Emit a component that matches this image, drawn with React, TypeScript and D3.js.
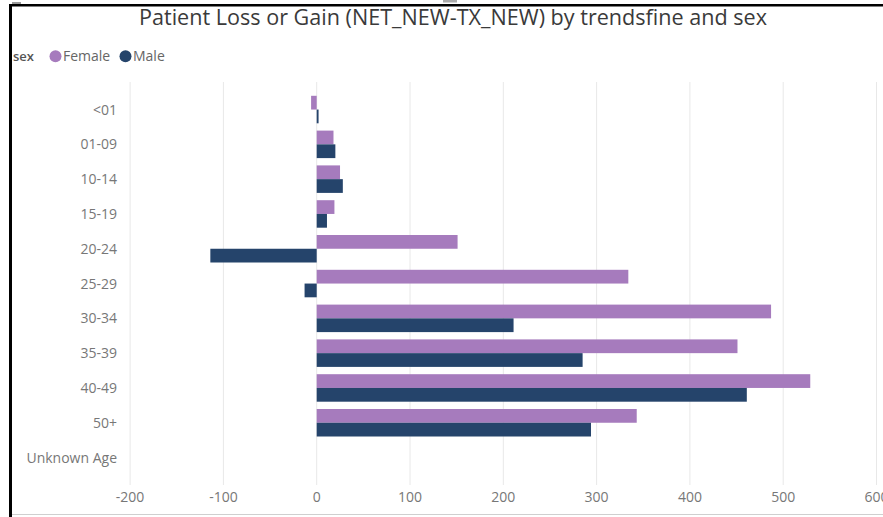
import React from "react";
import * as d3 from "d3";

const categories = ["<01", "01-09", "10-14", "15-19", "20-24", "25-29", "30-34", "35-39", "40-49", "50+", "Unknown Age"];
const femaleValues: (number | null)[] = [-6, 18, 25, 19, 151, 334, 487, 451, 529, 343, null];
const maleValues: (number | null)[] = [2, 20, 28, 11, -114, -13, 211, 285, 461, 294, null];
const seriesNames = ["Female", "Male"];
const seriesColors = ["#A67BBD", "#25446B"];
const xTicks = [-200, -100, 0, 100, 200, 300, 400, 500, 600];
const titleText = "Patient Loss or Gain (NET_NEW-TX_NEW) by trendsfine and sex";

const W = 883;
const H = 517;
const FONT = "'Open Sans', 'Noto Sans', sans-serif";

export default function App() {
  const x = d3.scaleLinear().domain([-200, 600]).range([130.1, 876.5]);
  const y = d3.scaleBand<string>().domain(categories).range([92.3, 475.1]).padding(0);
  const bw = y.bandwidth();
  const sub = d3.scaleBand<string>().domain(seriesNames).range([bw / 2 - 13.9, bw / 2 + 13.6]).padding(0);
  const series = [femaleValues, maleValues];

  return (
    <svg width={W} height={H} style={{ position: "absolute", left: 0, top: 0, background: "#fff" }}>
      <rect x={0} y={0} width={W} height={H} fill="#fff" />
      {/* frame */}
      <rect x={9} y={4} width={874} height={2.5} fill="#000" />
      <rect x={9} y={4} width={3} height={513} fill="#000" />
      <rect x={12} y={514} width={871} height={1} fill="#cfcfcf" />
      <rect x={12} y={2} width={9} height={2} fill="#9a9a9a" />
      <rect x={443} y={0} width={14} height={2.5} fill="#aaaaaa" />

      {/* title */}
      <text
        x={139}
        y={25}
        textLength={628}
        lengthAdjust="spacingAndGlyphs"
        fontFamily={FONT}
        fontSize={21}
        fill="#3a3a3a"
      >
        {titleText}
      </text>

      {/* legend */}
      <text x={13} y={61} fontFamily={FONT} fontSize={13} fontWeight={600} fill="#555">sex</text>
      {seriesNames.map((s, i) => {
        const cx = i === 0 ? 55.5 : 125.5;
        return (
          <g key={s}>
            <circle cx={cx} cy={56.3} r={6} fill={seriesColors[i]} />
            <text x={cx + 7.5} y={61} fontFamily={FONT} fontSize={14} fill="#666">{s}</text>
          </g>
        );
      })}

      {/* gridlines */}
      {xTicks.map((t) => (
        <line key={t} x1={x(t)} x2={x(t)} y1={82} y2={485} stroke="#e8e8e8" strokeWidth={1} />
      ))}

      {/* bars */}
      {categories.map((c, ci) => (
        <g key={c} transform={`translate(0,${y(c)})`}>
          {series.map((vals, si) => {
            const v = vals[ci];
            if (v === null || v === undefined) return null;
            const x0 = x(Math.min(0, v));
            const x1 = x(Math.max(0, v));
            return (
              <rect
                key={si}
                x={x0}
                y={sub(seriesNames[si])}
                width={Math.max(0.5, x1 - x0)}
                height={sub.bandwidth()}
                fill={seriesColors[si]}
              />
            );
          })}
        </g>
      ))}

      {/* category labels */}
      {categories.map((c) => (
        <text
          key={c}
          x={117}
          y={(y(c) as number) + bw / 2}
          dy="0.35em"
          textAnchor="end"
          fontFamily={FONT}
          fontSize={14}
          fill="#777"
        >
          {c}
        </text>
      ))}

      {/* x tick labels */}
      {xTicks.map((t) => (
        <text key={t} x={x(t)} y={502} textAnchor="middle" fontFamily={FONT} fontSize={14} fill="#777">
          {t}
        </text>
      ))}
    </svg>
  );
}
